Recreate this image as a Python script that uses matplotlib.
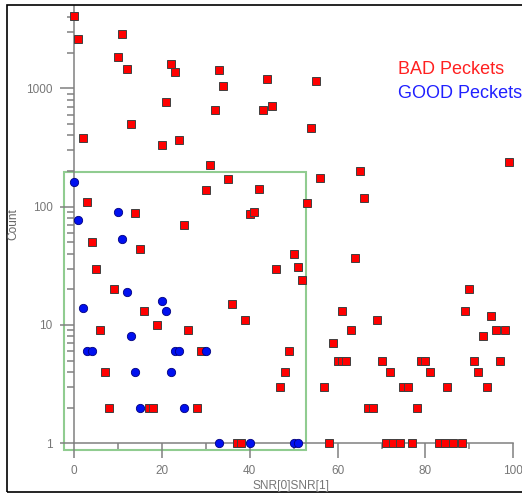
import matplotlib.pyplot as plt
from matplotlib.patches import Rectangle
from matplotlib.ticker import FixedLocator, NullFormatter

plt.rcParams['font.family'] = ['Liberation Sans', 'DejaVu Sans']

# bad packets (red squares)
bad_snr = [0, 1, 11, 10, 12, 22, 23, 21, 13, 2, 20, 24, 33, 44, 55, 34, 32, 43, 45, 54,
           31, 35, 56, 65, 99, 30, 42, 53, 40, 41, 25, 50, 46, 51, 52, 36, 39, 61, 26,
           3, 14, 4, 15, 5, 9, 16, 19, 6, 7, 8, 17, 18,
           29, 49, 48, 47, 28, 37, 38, 58, 57, 59, 60, 63,
           66, 64, 90, 69, 89, 95, 93, 96, 98, 61, 62, 70, 79, 80, 91, 97,
           72, 81, 92, 75, 76, 85, 94, 67, 68, 78,
           71, 72.6, 74.2, 77, 83, 84.5, 86.3, 88.3]
bad_count = [4100, 2600, 2900, 1830, 1450, 1600, 1380, 770, 500, 380, 330, 365, 1440, 1210, 1150, 1040, 660, 660, 710, 460,
             226, 172, 174, 200, 240, 137, 142, 108, 87, 90, 70, 40, 30, 31, 24, 15, 11, 13, 9,
             110, 88, 50, 44, 30, 20, 13, 10, 9, 4, 2, 2, 2,
             6, 6, 4, 3, 2, 1, 1, 1, 3, 7, 5, 9,
             119, 37, 20, 11, 13, 12, 8, 9, 9, 5, 5, 5, 5, 5, 5, 5,
             4, 4, 4, 3, 3, 3, 3, 2, 2, 2,
             1, 1, 1, 1, 1, 1, 1, 1]

# good packets (blue circles)
good_snr = [0, 1, 10, 11, 12, 2, 20, 21, 13, 3, 4, 14, 22, 23, 24, 30, 15, 25, 33, 40, 50, 51]
good_count = [163, 77, 91, 53, 19, 14, 16, 13, 8, 6, 6, 4, 4, 6, 6, 6, 2, 2, 1, 1, 1, 1]

xticks = [0, 20, 40, 60, 80, 100]
xminor = [10, 30, 50, 70, 90]
yticks = [1, 10, 100, 1000]
yminor = [m * 10 ** e for e in range(4) for m in range(2, 10) if m * 10 ** e < 5000]

box_snr = (-2.3, 52.7)
box_count = (0.87, 195)

gray = '#808080'

fig = plt.figure(figsize=(5.22, 4.93), dpi=100)
ax = fig.add_axes([0.1165, 0.0839, 0.8753, 0.9046])
ax.set_yscale('log')
ax.set_xlim(-3, 101)
ax.set_ylim(0.85, 5000)

ax.add_patch(Rectangle((box_snr[0], box_count[0]), box_snr[1] - box_snr[0], box_count[1] - box_count[0],
                       fill=False, edgecolor='#90cc90', linewidth=1.5, zorder=1))

ax.plot(bad_snr, bad_count, 's', color='red', markeredgecolor='#404040', markeredgewidth=0.7,
        markersize=5.2, linestyle='none', clip_on=False, zorder=3)
ax.plot(good_snr, good_count, 'o', color='#0010f0', markeredgecolor='#000080', markeredgewidth=0.6,
        markersize=6, linestyle='none', clip_on=False, zorder=4)

for s in ['top', 'right']:
    ax.spines[s].set_visible(False)
ax.spines['left'].set_position(('data', 0))
ax.spines['bottom'].set_position(('data', 1))
ax.spines['left'].set_bounds(1, 5000)
ax.spines['bottom'].set_bounds(0, 100)
for s in ['left', 'bottom']:
    ax.spines[s].set_color(gray)
    ax.spines[s].set_linewidth(1.1)

ax.set_xticks(xticks)
ax.xaxis.set_minor_locator(FixedLocator(xminor))
ax.set_yticks(yticks)
ax.set_yticklabels([str(v) for v in yticks])
ax.yaxis.set_minor_locator(FixedLocator(yminor))
ax.yaxis.set_minor_formatter(NullFormatter())

ax.tick_params(which='major', axis='x', length=10.8, width=1.1, color=gray, labelcolor='#777777',
               labelsize=8.5, pad=5)
ax.tick_params(which='major', axis='y', length=10, width=1.1, color=gray, labelcolor='#777777',
               labelsize=8.5, pad=5.5)
ax.tick_params(which='minor', axis='x', length=4.3, width=1.1, color=gray)
ax.tick_params(which='minor', axis='y', length=5, width=1.1, color=gray)

fig.text(291 / 522, 1 - 486 / 493, 'SNR[0]SNR[1]', ha='center', va='center', fontsize=8.6, color='#777777')
fig.text(13 / 522, 1 - 224 / 493, 'Count', ha='center', va='center', rotation=90, fontsize=8.6, color='#666666')

fig.text(398 / 522, 1 - 70 / 493, 'BAD Peckets', ha='left', va='center', fontsize=13, color='#ff2020')
fig.text(398 / 522, 1 - 94 / 493, 'GOOD Peckets', ha='left', va='center', fontsize=13, color='#2020ff')

fig.add_artist(Rectangle((7 / 522, 1 / 493), 530 / 522, 487 / 493, transform=fig.transFigure,
                         fill=False, edgecolor='black', linewidth=1.2))

fig.savefig('out.png', dpi=100)
